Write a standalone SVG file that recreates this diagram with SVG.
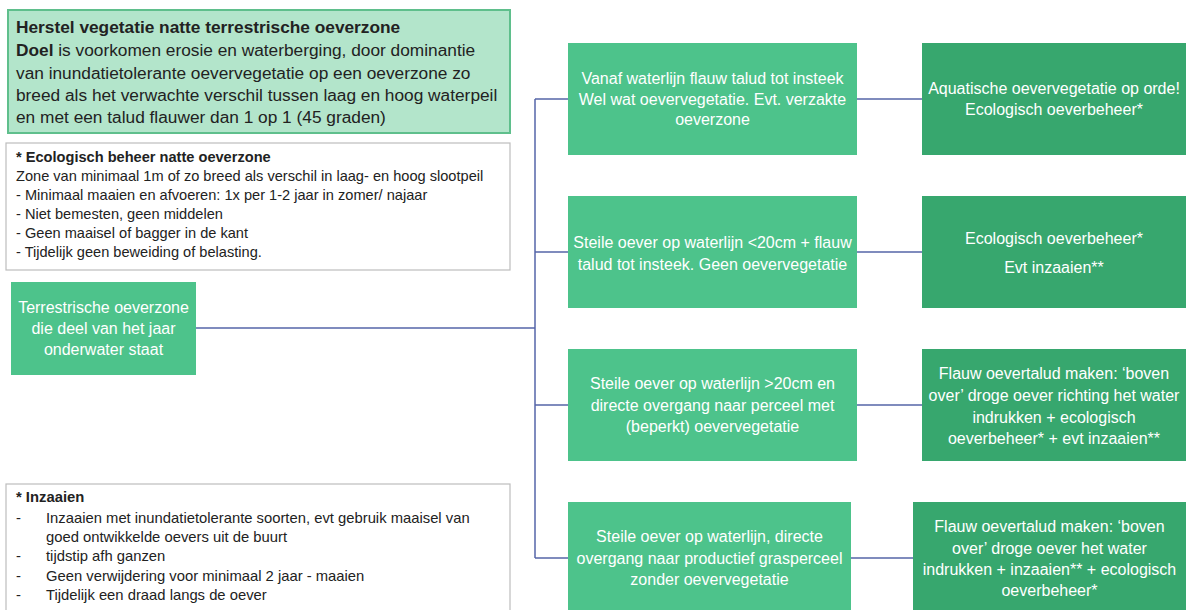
<svg xmlns="http://www.w3.org/2000/svg" width="1195" height="610" viewBox="0 0 1195 610">
<style>
.t{font-family:"Liberation Sans",Arial,sans-serif;}
.w{fill:#ffffff;font-size:16px;text-anchor:middle;}
.d{fill:#222222;}
.mid{fill:#4dc38b;}
.dark{fill:#37a76e;}
.con{stroke:#5565a8;stroke-width:1.5;fill:none;}
</style>
<rect width="1195" height="610" fill="#ffffff"/>
<g id="doel">
<rect x="8" y="10" width="502" height="123" fill="#b3e5cb" stroke="#5fbf8c" stroke-width="2"/>
<text class="t d" x="16" font-size="17.3"><tspan x="16" y="33" font-weight="bold">Herstel vegetatie natte terrestrische oeverzone</tspan><tspan x="16" y="56"><tspan font-weight="bold">Doel</tspan> is voorkomen erosie en waterberging, door dominantie</tspan><tspan x="16" y="79">van inundatietolerante oevervegetatie op een oeverzone zo</tspan><tspan x="16" y="101">breed als het verwachte verschil tussen laag en hoog waterpeil</tspan><tspan x="16" y="123">en met een talud flauwer dan 1 op 1 (45 graden)</tspan></text>
</g>
<g id="ecobeheer">
<rect x="6" y="143" width="504" height="127" fill="#ffffff" stroke="#bdbdbd" stroke-width="1.2"/>
<text class="t d" font-size="14.6"><tspan x="16" y="162" font-weight="bold">* Ecologisch  beheer natte oeverzone</tspan><tspan x="16" y="181">Zone van minimaal 1m of zo breed als verschil in laag- en hoog slootpeil</tspan><tspan x="16" y="200">- Minimaal maaien en afvoeren: 1x per 1-2 jaar in zomer/ najaar</tspan><tspan x="16" y="219">- Niet bemesten, geen middelen</tspan><tspan x="16" y="238">- Geen maaisel of bagger in de kant</tspan><tspan x="16" y="257">- Tijdelijk geen beweiding of belasting.</tspan></text>
</g>
<g id="inzaaien">
<rect x="6" y="484" width="504" height="130" fill="#ffffff" stroke="#bdbdbd" stroke-width="1.2"/>
<text class="t d" font-size="14.8"><tspan x="16" y="502" font-weight="bold">* Inzaaien</tspan><tspan x="16" y="523">-</tspan><tspan x="46" y="523">Inzaaien met  inundatietolerante soorten, evt gebruik maaisel van</tspan><tspan x="46" y="542">goed ontwikkelde oevers uit de buurt</tspan><tspan x="16" y="561">-</tspan><tspan x="46" y="561">tijdstip afh ganzen</tspan><tspan x="16" y="581">-</tspan><tspan x="46" y="581">Geen verwijdering voor minimaal 2 jaar - maaien</tspan><tspan x="16" y="600">-</tspan><tspan x="46" y="600">Tijdelijk een draad langs de oever</tspan></text>
</g>
<g id="connectors">
<path class="con" d="M196 328 H535"/>
<path class="con" d="M535 99 V558"/>
<path class="con" d="M535 99 H568 M535 252 H568 M535 405 H568 M535 558 H568"/>
<path class="con" d="M857 99 H922 M857 252 H922 M857 405 H922 M851 558 H913"/>
</g>
<g id="terrestrisch">
<rect class="mid" x="11" y="282" width="185" height="93"/>
<text class="t w" font-size="15.6"><tspan x="103.5" y="313">Terrestrische oeverzone</tspan><tspan x="103.5" y="334">die deel van het jaar</tspan><tspan x="103.5" y="355">onderwater staat</tspan></text>
</g>
<g id="situatie1">
<rect class="mid" x="568" y="43" width="289" height="112"/>
<text class="t w"><tspan x="712.5" y="84">Vanaf waterlijn flauw talud tot insteek</tspan><tspan x="712.5" y="105">Wel wat oevervegetatie. Evt. verzakte</tspan><tspan x="712.5" y="125">oeverzone</tspan></text>
</g>
<g id="maatregel1">
<rect class="dark" x="922" y="43" width="264" height="112"/>
<text class="t w"><tspan x="1054" y="94">Aquatische oevervegetatie op orde!</tspan><tspan x="1054" y="115">Ecologisch oeverbeheer*</tspan></text>
</g>
<g id="situatie2">
<rect class="mid" x="568" y="196" width="289" height="112"/>
<text class="t w"><tspan x="712.5" y="248">Steile oever op waterlijn &lt;20cm + flauw</tspan><tspan x="712.5" y="270">talud tot insteek.  Geen oevervegetatie</tspan></text>
</g>
<g id="maatregel2">
<rect class="dark" x="922" y="196" width="264" height="112"/>
<text class="t w"><tspan x="1054" y="244">Ecologisch oeverbeheer*</tspan><tspan x="1054" y="273">Evt inzaaien**</tspan></text>
</g>
<g id="situatie3">
<rect class="mid" x="568" y="349" width="289" height="112"/>
<text class="t w"><tspan x="712.5" y="389">Steile oever op waterlijn &gt;20cm en</tspan><tspan x="712.5" y="411">directe overgang naar perceel met</tspan><tspan x="712.5" y="432">(beperkt) oevervegetatie</tspan></text>
</g>
<g id="maatregel3">
<rect class="dark" x="922" y="349" width="264" height="112"/>
<text class="t w"><tspan x="1054" y="379">Flauw oevertalud maken: ‘boven</tspan><tspan x="1054" y="401">over’ droge oever richting het water</tspan><tspan x="1054" y="423">indrukken + ecologisch</tspan><tspan x="1054" y="444">oeverbeheer*  + evt inzaaien**</tspan></text>
</g>
<g id="situatie4">
<rect class="mid" x="568" y="502" width="283" height="112"/>
<text class="t w"><tspan x="709.5" y="542">Steile oever op waterlijn, directe</tspan><tspan x="709.5" y="564">overgang naar productief grasperceel</tspan><tspan x="709.5" y="585">zonder oevervegetatie</tspan></text>
</g>
<g id="maatregel4">
<rect class="dark" x="913" y="502" width="273" height="112"/>
<text class="t w"><tspan x="1049.5" y="532">Flauw oevertalud maken: ‘boven</tspan><tspan x="1049.5" y="554">over’ droge oever het water</tspan><tspan x="1049.5" y="575">indrukken + inzaaien** + ecologisch</tspan><tspan x="1049.5" y="596">oeverbeheer*</tspan></text>
</g>
</svg>
